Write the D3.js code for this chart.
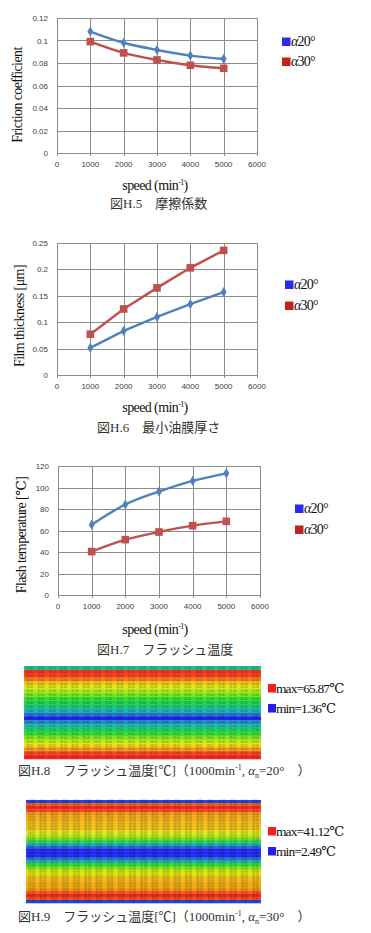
<!DOCTYPE html>
<html>
<head>
<meta charset="utf-8">
<script src="https://cdn.jsdelivr.net/npm/d3@7"></script>
<style>
body { margin: 0; background: #fff; }
svg { display: block; }
</style>
</head>
<body>
<svg id="chart" width="371" height="933"></svg>
<script>
// values
var speeds = [1000, 2000, 3000, 4000, 5000];
var speedTicks = [0, 1000, 2000, 3000, 4000, 5000, 6000];
var seriesNames = ["20°", "30°"];

var friction20 = [0.108, 0.098, 0.0916, 0.0866, 0.0836];
var friction30 = [0.099, 0.089, 0.0827, 0.078, 0.0753];
var frictionTicks = [0, 0.02, 0.04, 0.06, 0.08, 0.1, 0.12];

var film20 = [0.0515, 0.0835, 0.110, 0.1344, 0.157];
var film30 = [0.0773, 0.125, 0.165, 0.203, 0.236];
var filmTicks = [0, 0.05, 0.1, 0.15, 0.2, 0.25];

var flash20 = [65.4, 84.2, 96.2, 106.1, 113.2];
var flash30 = [40.4, 51.5, 58.6, 64.5, 68.5];
var flashTicks = [0, 20, 40, 60, 80, 100, 120];

// temperature bands of the two contour maps, top row first
var heat20Rows = [22, 64, 62, 56, 50, 45, 41, 37, 32, 28, 24, 19, 12, 1.36, 14, 21, 27, 32, 38, 43, 48, 54, 62, 65.87];
var heat20Range = [1.36, 65.87];
var heat30Rows = [5, 37, 41.12, 38, 34, 33, 33, 32, 32, 32, 30, 28, 25, 21, 14, 8, 3, 2.49, 3, 9, 15, 21, 25, 28, 30, 32, 32, 33, 33, 34, 37, 41, 38, 5];
var heat30Range = [2.49, 41.12];
var heatColumns = 21;

var SERIF = "'Liberation Serif', 'DejaVu Serif', serif";
var SANS = "'Liberation Sans', 'DejaVu Sans', sans-serif";
var JP = "'Liberation Serif', 'Noto Sans CJK JP', serif";

var svg = d3.select("#chart");

function serifText(g, x, y, size)
{
	return g.append("text").attr("x", x).attr("y", y)
		.style("font-family", SERIF).style("font-size", size + "px").attr("fill", "#111");
}

function addSpeedTitle(g, cx, y)
{
	var t = serifText(g, cx, y, 14).attr("text-anchor", "middle").style("letter-spacing", "-0.6px");
	t.append("tspan").text("speed (min");
	t.append("tspan").attr("dy", -5).style("font-size", "8px").text("-1");
	t.append("tspan").attr("dy", 5).text(")");
}

function addLegend(g, x, y0, y1)
{
	var colors = ["#2b2bf0", "#c42020"];
	[y0, y1].forEach(function(y, i) {
		g.append("rect").attr("x", x).attr("y", y - 8.5).attr("width", 8.5).attr("height", 8.5).attr("fill", colors[i]);
		var t = serifText(g, x + 9, y, 14).style("letter-spacing", "-0.8px");
		t.append("tspan").style("font-style", "italic").text("α");
		t.append("tspan").text(seriesNames[i]);
	});
}

function drawLineChart(cfg)
{
	var g = svg.append("g");

	var xScale = d3.scaleLinear().domain([0, 6000]).range(cfg.xRange);
	var yScale = d3.scaleLinear().domain([0, cfg.ticks[cfg.ticks.length - 1]]).range(cfg.yRange);

	// grid
	g.selectAll("line.h").data(cfg.ticks).enter().append("line")
		.attr("x1", cfg.xRange[0]).attr("x2", cfg.xRange[1])
		.attr("y1", function(d) { return Math.round(yScale(d)) + 0.5; })
		.attr("y2", function(d) { return Math.round(yScale(d)) + 0.5; })
		.attr("stroke", "#8c8c8c").attr("stroke-width", 1);
	g.selectAll("line.v").data(speedTicks).enter().append("line")
		.attr("x1", function(d) { return Math.round(xScale(d)) + 0.5; })
		.attr("x2", function(d) { return Math.round(xScale(d)) + 0.5; })
		.attr("y1", cfg.yRange[1]).attr("y2", cfg.yRange[0] + 3)
		.attr("stroke", "#8c8c8c").attr("stroke-width", 1);

	g.selectAll("text.yl").data(cfg.ticks).enter().append("text")
		.attr("x", cfg.xRange[0] - 9)
		.attr("y", function(d) { return yScale(d) + 3; })
		.attr("text-anchor", "end")
		.style("font-family", SANS).style("font-size", "8px").attr("fill", "#404040")
		.text(function(d) { return String(d); });
	g.selectAll("text.xl").data(speedTicks).enter().append("text")
		.attr("x", function(d) { return xScale(d); })
		.attr("y", cfg.yRange[0] + 14)
		.attr("text-anchor", "middle")
		.style("font-family", SANS).style("font-size", "8px").attr("fill", "#404040")
		.text(function(d) { return String(d); });

	// series
	var curve = cfg.smooth ? d3.curveMonotoneX : d3.curveLinear;
	var line = d3.line()
		.x(function(d, i) { return xScale(speeds[i]); })
		.y(function(d) { return yScale(d); })
		.curve(curve);

	g.append("path").datum(cfg.s30).attr("d", line)
		.attr("fill", "none").attr("stroke", "#c0504d").attr("stroke-width", 2.4);
	g.selectAll("rect.m30").data(cfg.s30).enter().append("rect")
		.attr("x", function(d, i) { return xScale(speeds[i]) - 3.8; })
		.attr("y", function(d) { return yScale(d) - 3.8; })
		.attr("width", 7.6).attr("height", 7.6)
		.attr("fill", "#c0504d");

	g.append("path").datum(cfg.s20).attr("d", line)
		.attr("fill", "none").attr("stroke", "#4f81bd").attr("stroke-width", 2.4);
	g.selectAll("path.m20").data(cfg.s20).enter().append("path")
		.attr("d", d3.symbol().type(d3.symbolDiamond).size(30))
		.attr("transform", function(d, i) { return "translate(" + xScale(speeds[i]) + "," + yScale(d) + ")"; })
		.attr("fill", "#4f81bd");

	// titles
	serifText(g, 0, 0, 14)
		.attr("transform", "translate(" + cfg.yTitle[0] + "," + cfg.yTitle[1] + ") rotate(-90)")
		.attr("text-anchor", "middle").style("letter-spacing", "-0.6px")
		.text(cfg.yLabel);
	addSpeedTitle(g, 155, cfg.speedY);
	serifText(g, cfg.caption[0], cfg.caption[1], 13).style("font-family", JP).attr("fill", "#333")
		.text(cfg.captionText);
	addLegend(g, cfg.legend[0], cfg.legend[1], cfg.legend[2]);
}

drawLineChart({
	xRange: [57, 257], yRange: [153, 18], ticks: frictionTicks,
	s20: friction20, s30: friction30, smooth: true,
	yLabel: "Friction coefficient", yTitle: [22, 95],
	speedY: 190, caption: [110, 208], captionText: "図H.5　摩擦係数",
	legend: [282, 46, 66]
});

drawLineChart({
	xRange: [57, 257], yRange: [375, 243], ticks: filmTicks,
	s20: film20, s30: film30, smooth: false,
	yLabel: "Film thickness [μm]", yTitle: [24, 316],
	speedY: 412, caption: [97, 432], captionText: "図H.6　最小油膜厚さ",
	legend: [285, 289, 310]
});

drawLineChart({
	xRange: [58, 260], yRange: [595, 466], ticks: flashTicks,
	s20: flash20, s30: flash30, smooth: true,
	yLabel: "Flash temperature [℃]", yTitle: [26, 535],
	speedY: 634, caption: [97, 654], captionText: "図H.7　フラッシュ温度",
	legend: [295, 513, 534]
});

function drawHeatmap(cfg)
{
	var g = svg.append("g");
	var cols = d3.range(heatColumns);
	var xScale = d3.scaleBand().domain(cols).range([cfg.x0, cfg.x1]);
	var yScale = d3.scaleBand().domain(d3.range(cfg.rows.length)).range([cfg.y0, cfg.y1]);
	var lo = cfg.range[0], hi = cfg.range[1];
	var color = d3.scaleLinear()
		.domain([0, 0.14, 0.28, 0.45, 0.6, 0.7, 0.8, 0.9, 1].map(function(t) { return lo + t * (hi - lo); }))
		.range(["#2222f2", "#1f6fd8", "#1fb8b0", "#22dc3a", "#9ee81c", "#eaee14", "#f5a41a", "#f75a1e", "#f42a22"])
		.clamp(true);

	var rows = g.selectAll("g.row").data(cfg.rows).enter().append("g");
	rows.append("rect")
		.attr("x", cfg.x0).attr("width", cfg.x1 - cfg.x0)
		.attr("y", function(d, i) { return yScale(i); })
		.attr("height", yScale.bandwidth() + 0.3)
		.attr("fill", function(d) { return color(d); });
	rows.each(function(d, i) {
		d3.select(this).selectAll("text").data(cols).enter().append("text")
			.attr("x", function(c) { return xScale(c) + xScale.bandwidth() / 2; })
			.attr("y", yScale(i) + yScale.bandwidth() * 0.8)
			.attr("text-anchor", "middle")
			.style("font-family", SANS)
			.style("font-size", "2.8px")
			.attr("fill", "#000").attr("opacity", 0.45)
			.text(d.toFixed(2));
	});

	// legend
	var labels = ["max=" + hi.toFixed(2) + "℃", "min=" + lo.toFixed(2) + "℃"];
	var sw = ["#f42020", "#2020f2"];
	[cfg.legendY[0], cfg.legendY[1]].forEach(function(y, i) {
		g.append("rect").attr("x", 268).attr("y", y - 9).attr("width", 8).attr("height", 8.5).attr("fill", sw[i]);
		serifText(g, 276, y, 13.5).style("letter-spacing", "-0.9px").text(labels[i]);
	});

	var t = serifText(g, 18, cfg.captionY, 13).style("font-family", JP).attr("fill", "#333");
	t.append("tspan").text(cfg.captionText + "（1000min");
	t.append("tspan").attr("dy", -5).style("font-size", "8px").text("-1");
	t.append("tspan").attr("dy", 5).text(", ");
	t.append("tspan").style("font-style", "italic").text("α");
	t.append("tspan").attr("dy", 3).style("font-size", "8px").text("n");
	t.append("tspan").attr("dy", -3).text("=" + cfg.angle + "°　）");
}

drawHeatmap({
	rows: heat20Rows, range: heat20Range, angle: 20,
	x0: 24, x1: 261, y0: 666, y1: 759,
	legendY: [693, 713], captionY: 775, captionText: "図H.8　フラッシュ温度[℃]"
});

drawHeatmap({
	rows: heat30Rows, range: heat30Range, angle: 30,
	x0: 26, x1: 261, y0: 800, y1: 903,
	legendY: [836, 856], captionY: 921, captionText: "図H.9　フラッシュ温度[℃]"
});
</script>
</body>
</html>
